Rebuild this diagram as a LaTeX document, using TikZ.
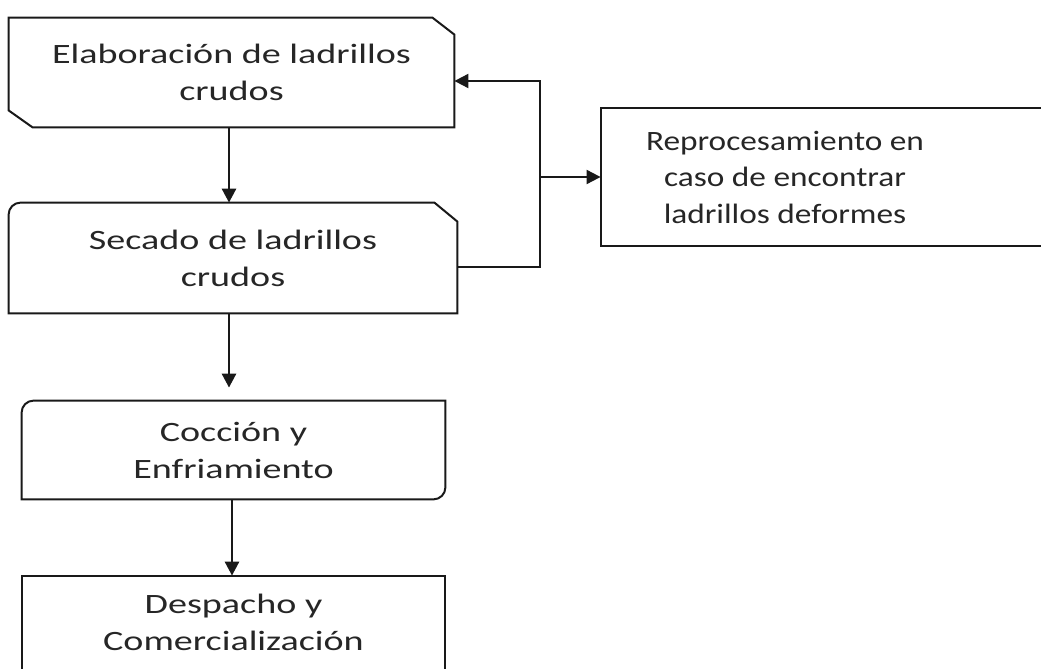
\documentclass[tikz,border=0pt]{standalone}
\usepackage{fontspec}
\setmainfont{Carlito}
\newfontfamily\anchafont[FakeStretch=1.36]{Carlito}
\newfontfamily\mediafont[FakeStretch=1.19]{Carlito}
\usetikzlibrary{arrows.meta}

\begin{document}
\begin{tikzpicture}[x=0.5pt, y=-0.5pt,
    paso/.style={inner sep=0pt, align=center, text=black!85,
      font=\anchafont\fontsize{14pt}{18.5pt}\selectfont},
    borde/.style={line width=1pt, black!90},
    flecha/.style={line width=1.4pt, black!90, -{Triangle[length=7pt, width=7pt]}}]
  \useasboundingbox (0,0) rectangle (1041,669);

  % Process steps
  \node[paso, minimum width=222.5pt, minimum height=54.5pt] (elab) at (231.5,72.5)
    {Elaboración de ladrillos\\crudos};
  \node[paso, minimum width=224pt, minimum height=55pt] (secado) at (233,258)
    {Secado de ladrillos\\crudos};
  \node[paso, minimum width=211.5pt, minimum height=49pt] (coccion) at (233.5,450)
    {Cocción y\\Enfriamiento};
  \node[paso, minimum width=211.5pt, minimum height=46.5pt] (despacho) at (233.5,622.5)
    {Despacho y\\Comercialización};
  \node[paso, font=\mediafont\fontsize{14pt}{18.25pt}\selectfont,
    minimum width=184pt, minimum height=69pt] (repro) at (785,177)
    {Reprocesamiento en\\caso de encontrar\\ladrillos deformes};

  % Outlines of the steps
  \draw[borde] (elab.north west) -- ([xshift=-11pt]elab.north east)
    -- ([yshift=-8.5pt]elab.north east) -- (elab.south east)
    -- ([xshift=12pt]elab.south west) -- ([yshift=8.5pt]elab.south west) -- cycle;
  \draw[borde] (secado.south west) -- ([yshift=-6pt]secado.north west)
    arc[start angle=180, end angle=90, radius=6pt]
    -- ([xshift=-11.5pt]secado.north east) -- ([yshift=-9.5pt]secado.north east)
    -- (secado.south east) -- cycle;
  \draw[borde] (coccion.south west) -- ([yshift=-6pt]coccion.north west)
    arc[start angle=180, end angle=90, radius=6pt]
    -- (coccion.north east) -- ([yshift=6pt]coccion.south east)
    arc[start angle=0, end angle=-90, radius=6pt] -- cycle;
  \draw[borde] ([yshift=-6pt]despacho.south west) -- (despacho.north west)
    -- (despacho.north east) -- ([yshift=-6pt]despacho.south east);
  \draw[borde] ([xshift=40pt]repro.north east) -- (repro.north west)
    -- (repro.south west) -- ([xshift=40pt]repro.south east);

  % Main flow
  \draw[flecha] ([xshift=-1.25pt]elab.south) -- ([xshift=-1.25pt]elab.south |- secado.north);
  \draw[flecha, shorten >=6.5pt] ([xshift=-2pt]secado.south) -- ([xshift=-2pt]secado.south |- coccion.north);
  \draw[flecha] ([xshift=-0.75pt]coccion.south) -- ([xshift=-0.75pt]coccion.south |- despacho.north);

  % Feedback loop
  \coordinate (codo) at (540,177);
  \draw[flecha, line width=1pt] ([yshift=-4.5pt]secado.east) -| (codo) |- ([yshift=-4.25pt]elab.east);
  \draw[flecha, line width=1pt] (codo) -- (repro.west);
\end{tikzpicture}
\end{document}
